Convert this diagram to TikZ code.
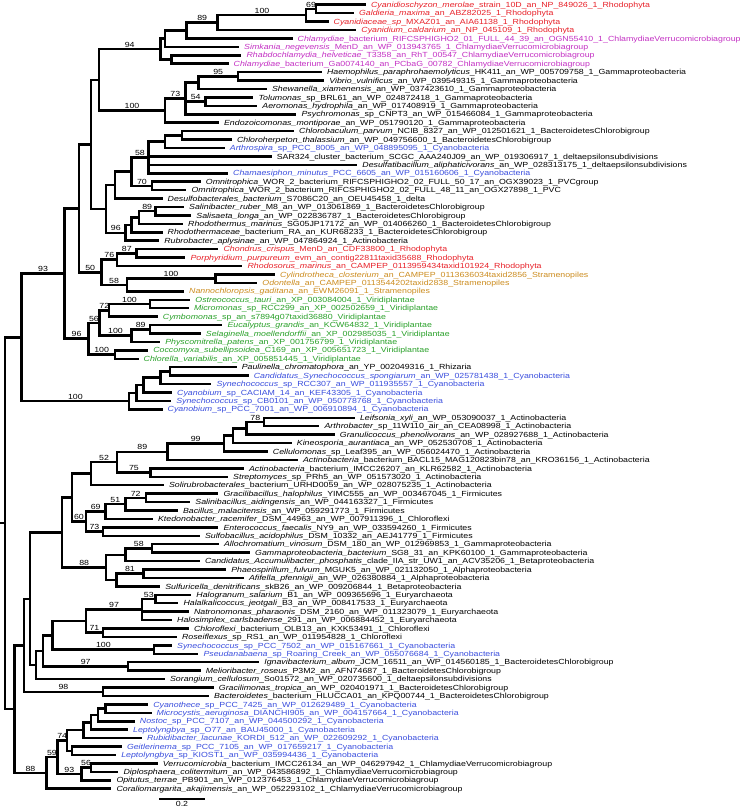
\documentclass[tikz,border=0pt]{standalone}
\usepackage{fontspec}
\newfontfamily\labf[FakeStretch=1.19]{Liberation Sans}
\usetikzlibrary{calc}
\definecolor{RD}{RGB}{232,32,40}
\definecolor{MG}{RGB}{196,48,196}
\definecolor{BL}{RGB}{58,78,222}
\definecolor{OR}{RGB}{204,140,30}
\definecolor{GR}{RGB}{40,160,40}
\tikzset{
  br/.style={line width=2.5pt},
  lab/.style={anchor=base west, inner sep=0pt, font=\labf\fontsize{7.4}{8}\selectfont},
  bsl/.style={anchor=south, inner sep=0pt, yshift=1.6pt, font=\labf\fontsize{7.4}{8}\selectfont}
}
\newcommand\lf[5]{%
  \coordinate (l#1) at ({#2-5},{4.7+(#1-1)*8.43});
  \node[lab,text=#3] (t#1) at (#2,{7.35+(#1-1)*8.43}) {\textit{#4}#5};}
\newcommand\nd[4]{\path let \p1=(#3),\p2=(#4) in coordinate (#1) at (#2pt,{(\y1+\y2)/2});}
\newcommand\kids[2]{\foreach \c in {#2}{\draw[br] (#1) |- (\c);}}
\newcommand\bs[4]{\path let \p1=(#2),\p2=(#3) in node[bsl] (#1) at ({(\x1+\x2)/2},\y2) {#4};}
\catcode`\_=12
\begin{document}
\begin{tikzpicture}[x=1pt,y=-1pt]
\fill[white] (0,0) rectangle (745,809);
\useasboundingbox (0,0) rectangle (745,809);
% leaves
\lf{1}{370.8}{RD}{Cyanidioschyzon_merolae}{_strain_10D_an_NP_849026_1_Rhodophyta}
\lf{2}{358.9}{RD}{Galdieria_maxima}{_an_ABZ82025_1_Rhodophyta}
\lf{3}{333.5}{RD}{Cyanidiaceae_sp}{_MXAZ01_an_AIA61138_1_Rhodophyta}
\lf{4}{361.2}{RD}{Cyanidium_caldarium}{_an_NP_045109_1_Rhodophyta}
\lf{5}{297.5}{MG}{Chlamydiae}{_bacterium_RIFCSPHIGHO2_01_FULL_44_39_an_OGN55410_1_ChlamydiaeVerrucomicrobiagroup}
\lf{6}{244.0}{MG}{Simkania_negevensis}{_MenD_an_WP_013943765_1_ChlamydiaeVerrucomicrobiagroup}
\lf{7}{246.4}{MG}{Rhabdochlamydia_helveticae}{_T3358_an_RhT_00547_ChlamydiaeVerrucomicrobiagroup}
\lf{8}{233.5}{MG}{Chlamydiae}{_bacterium_Ga0074140_an_PCbaG_00782_ChlamydiaeVerrucomicrobiagroup}
\lf{9}{326.8}{black}{Haemophilus_paraphrohaemolyticus}{_HK411_an_WP_005709758_1_Gammaproteobacteria}
\lf{10}{329.2}{black}{Vibrio_vulnificus}{_an_WP_039549315_1_Gammaproteobacteria}
\lf{11}{271.8}{black}{Shewanella_xiamenensis}{_an_WP_037423610_1_Gammaproteobacteria}
\lf{12}{258.4}{black}{Tolumonas}{_sp_BRL61_an_WP_024872418_1_Gammaproteobacteria}
\lf{13}{262.2}{black}{Aeromonas_hydrophila}{_an_WP_017408919_1_Gammaproteobacteria}
\lf{14}{301.4}{black}{Psychromonas}{_sp_CNPT3_an_WP_015466084_1_Gammaproteobacteria}
\lf{15}{223.9}{black}{Endozoicomonas_montiporae}{_an_WP_051790120_1_Gammaproteobacteria}
\lf{16}{299.0}{black}{Chlorobaculum_parvum}{_NCIB_8327_an_WP_012501621_1_BacteroidetesChlorobigroup}
\lf{17}{236.8}{black}{Chloroherpeton_thalassium}{_an_WP_049756600_1_BacteroidetesChlorobigroup}
\lf{18}{229.7}{BL}{Arthrospira}{_sp_PCC_8005_an_WP_048895095_1_Cyanobacteria}
\lf{19}{276.6}{black}{}{SAR324_cluster_bacterium_SCGC_AAA240J09_an_WP_019306917_1_deltaepsilonsubdivisions}
\lf{20}{362.2}{black}{Desulfatibacillum_aliphaticivorans}{_an_WP_028313175_1_deltaepsilonsubdivisions}
\lf{21}{233.0}{BL}{Chamaesiphon_minutus}{_PCC_6605_an_WP_015160606_1_Cyanobacteria}
\lf{22}{205.7}{black}{Omnitrophica}{_WOR_2_bacterium_RIFCSPHIGHO2_02_FULL_50_17_an_OGX39023_1_PVCgroup}
\lf{23}{191.4}{black}{Omnitrophica}{_WOR_2_bacterium_RIFCSPHIGHO2_02_FULL_48_11_an_OGX27898_1_PVC}
\lf{24}{167.5}{black}{Desulfobacterales_bacterium}{_S7086C20_an_OEU45458_1_delta}
\lf{25}{189.0}{black}{Salinibacter_ruber}{_M8_an_WP_013061869_1_BacteroidetesChlorobigroup}
\lf{26}{196.2}{black}{Salisaeta_longa}{_an_WP_022836787_1_BacteroidetesChlorobigroup}
\lf{27}{188.0}{black}{Rhodothermus_marinus}{_SG05JP17172_an_WP_014066260_1_BacteroidetesChlorobigroup}
\lf{28}{167.5}{black}{Rhodothermaceae}{_bacterium_RA_an_KUR68233_1_BacteroidetesChlorobigroup}
\lf{29}{164.1}{black}{Rubrobacter_aplysinae}{_an_WP_047864924_1_Actinobacteria}
\lf{30}{223.4}{RD}{Chondrus_crispus}{_MenD_an_CDF33800_1_Rhodophyta}
\lf{31}{190.4}{RD}{Porphyridium_purpureum}{_evm_an_contig22811taxid35688_Rhodophyta}
\lf{32}{247.4}{RD}{Rhodosorus_marinus}{_an_CAMPEP_0113959434taxid101924_Rhodophyta}
\lf{33}{279.9}{OR}{Cylindrotheca_closterium}{_an_CAMPEP_0113636034taxid2856_Stramenopiles}
\lf{34}{262.2}{OR}{Odontella}{_an_CAMPEP_0113544202taxid2838_Stramenopiles}
\lf{35}{189.0}{OR}{Nannochloropsis_gaditana}{_an_EWM26091_1_Stramenopiles}
\lf{36}{195.2}{GR}{Ostreococcus_tauri}{_an_XP_003084004_1_Viridiplantae}
\lf{37}{193.8}{GR}{Micromonas}{_sp_RCC299_an_XP_002502659_1_Viridiplantae}
\lf{38}{162.7}{GR}{Cymbomonas}{_sp_an_s7894g07taxid36880_Viridiplantae}
\lf{39}{227.3}{GR}{Eucalyptus_grandis}{_an_KCW64832_1_Viridiplantae}
\lf{40}{205.7}{GR}{Selaginella_moellendorffii}{_an_XP_002985035_1_Viridiplantae}
\lf{41}{165.1}{GR}{Physcomitrella_patens}{_an_XP_001756799_1_Viridiplantae}
\lf{42}{153.1}{GR}{Coccomyxa_subellipsoidea}{_C169_an_XP_005651723_1_Viridiplantae}
\lf{43}{143.5}{GR}{Chlorella_variabilis}{_an_XP_005851445_1_Viridiplantae}
\lf{44}{241.6}{black}{Paulinella_chromatophora}{_an_YP_002049316_1_Rhizaria}
\lf{45}{253.6}{BL}{Candidatus_Synechococcus_spongiarum}{_an_WP_025781438_1_Cyanobacteria}
\lf{46}{216.3}{BL}{Synechococcus}{_sp_RCC307_an_WP_011935557_1_Cyanobacteria}
\lf{47}{177.0}{BL}{Cyanobium}{_sp_CACIAM_14_an_KEF43305_1_Cyanobacteria}
\lf{48}{176.1}{BL}{Synechococcus}{_sp_CB0101_an_WP_050778768_1_Cyanobacteria}
\lf{49}{167.5}{BL}{Cyanobium}{_sp_PCC_7001_an_WP_006910894_1_Cyanobacteria}
\lf{50}{359.8}{black}{Leifsonia_xyli}{_an_WP_053090037_1_Actinobacteria}
\lf{51}{324.4}{black}{Arthrobacter}{_sp_11W110_air_an_CEA08998_1_Actinobacteria}
\lf{52}{339.7}{black}{Granulicoccus_phenolivorans}{_an_WP_028927688_1_Actinobacteria}
\lf{53}{296.7}{black}{Kineosporia_aurantiaca}{_an_WP_052530708_1_Actinobacteria}
\lf{54}{272.7}{black}{Cellulomonas}{_sp_Leaf395_an_WP_056024470_1_Actinobacteria}
\lf{55}{302.9}{black}{Actinobacteria}{_bacterium_BACL15_MAG120823bin78_an_KRO36156_1_Actinobacteria}
\lf{56}{248.8}{black}{Actinobacteria}{_bacterium_IMCC26207_an_KLR62582_1_Actinobacteria}
\lf{57}{233.0}{black}{Streptomyces}{_sp_PRh5_an_WP_051573020_1_Actinobacteria}
\lf{58}{168.9}{black}{Solirubrobacterales}{_bacterium_URHD0059_an_WP_028075235_1_Actinobacteria}
\lf{59}{223.4}{black}{Gracilibacillus_halophilus}{_YIMC555_an_WP_003467045_1_Firmicutes}
\lf{60}{195.2}{black}{Salinibacillus_aidingensis}{_an_WP_044163327_1_Firmicutes}
\lf{61}{182.8}{black}{Bacillus_malacitensis}{_an_WP_059291773_1_Firmicutes}
\lf{62}{157.9}{black}{Ktedonobacter_racemifer}{_DSM_44963_an_WP_007911396_1_Chloroflexi}
\lf{63}{223.4}{black}{Enterococcus_faecalis}{_NY9_an_WP_033594260_1_Firmicutes}
\lf{64}{204.8}{black}{Sulfobacillus_acidophilus}{_DSM_10332_an_AEJ41779_1_Firmicutes}
\lf{65}{223.9}{black}{Allochromatium_vinosum}{_DSM_180_an_WP_012969853_1_Gammaproteobacteria}
\lf{66}{255.0}{black}{Gammaproteobacteria_bacterium}{_SG8_31_an_KPK60100_1_Gammaproteobacteria}
\lf{67}{204.8}{black}{Candidatus_Accumulibacter_phosphatis}{_clade_IIA_str_UW1_an_ACV35206_1_Betaproteobacteria}
\lf{68}{231.1}{black}{Phaeospirillum_fulvum}{_MGUK5_an_WP_021132050_1_Alphaproteobacteria}
\lf{69}{248.8}{black}{Afifella_pfennigii}{_an_WP_026380884_1_Alphaproteobacteria}
\lf{70}{165.1}{black}{Sulfuricella_denitrificans}{_skB26_an_WP_009206844_1_Betaproteobacteria}
\lf{71}{196.2}{black}{Halogranum_salarium}{_B1_an_WP_009365696_1_Euryarchaeota}
\lf{72}{183.3}{black}{Halalkalicoccus_jeotgali}{_B3_an_WP_008417533_1_Euryarchaeota}
\lf{73}{193.8}{black}{Natronomonas_pharaonis}{_DSM_2160_an_WP_011323079_1_Euryarchaeota}
\lf{74}{177.0}{black}{Halosimplex_carlsbadense}{_291_an_WP_006884452_1_Euryarchaeota}
\lf{75}{193.8}{black}{Chloroflexi}{_bacterium_OLB13_an_KXK53491_1_Chloroflexi}
\lf{76}{181.8}{black}{Roseiflexus}{_sp_RS1_an_WP_011954828_1_Chloroflexi}
\lf{77}{177.0}{BL}{Synechococcus}{_sp_PCC_7502_an_WP_015167661_1_Cyanobacteria}
\lf{78}{203.3}{BL}{Pseudanabaena}{_sp_Roaring_Creek_an_WP_055076684_1_Cyanobacteria}
\lf{79}{264.1}{black}{Ignavibacterium_album}{_JCM_16511_an_WP_014560185_1_BacteroidetesChlorobigroup}
\lf{80}{205.7}{black}{Melioribacter_roseus}{_P3M2_an_AFN74687_1_BacteroidetesChlorobigroup}
\lf{81}{169.9}{black}{Sorangium_cellulosum}{_So01572_an_WP_020735600_1_deltaepsilonsubdivisions}
\lf{82}{218.7}{black}{Gracilimonas_tropica}{_an_WP_020401971_1_BacteroidetesChlorobigroup}
\lf{83}{213.9}{black}{Bacteroidetes}{_bacterium_HLUCCA01_an_KPQ00744_1_BacteroidetesChlorobigroup}
\lf{84}{153.1}{BL}{Cyanothece}{_sp_PCC_7425_an_WP_012629489_1_Cyanobacteria}
\lf{85}{156.5}{BL}{Microcystis_aeruginosa}{_DIANCHI905_an_WP_004157664_1_Cyanobacteria}
\lf{86}{139.7}{BL}{Nostoc}{_sp_PCC_7107_an_WP_044500292_1_Cyanobacteria}
\lf{87}{133.0}{BL}{Leptolyngbya}{_sp_O77_an_BAU45000_1_Cyanobacteria}
\lf{88}{146.9}{BL}{Rubidibacter_lacunae}{_KORDI_512_an_WP_022609292_1_Cyanobacteria}
\lf{89}{126.8}{BL}{Geitlerinema}{_sp_PCC_7105_an_WP_017659217_1_Cyanobacteria}
\lf{90}{121.1}{BL}{Leptolyngbya}{_sp_KIOST1_an_WP_035994436_1_Cyanobacteria}
\lf{91}{162.7}{black}{Verrucomicrobia}{_bacterium_IMCC26134_an_WP_046297942_1_ChlamydiaeVerrucomicrobiagroup}
\lf{92}{123.4}{black}{Diplosphaera_colitermitum}{_an_WP_043586892_1_ChlamydiaeVerrucomicrobiagroup}
\lf{93}{116.3}{black}{Opitutus_terrae}{_PB901_an_WP_012376453_1_ChlamydiaeVerrucomicrobiagroup}
\lf{94}{116.3}{black}{Coraliomargarita_akajimensis}{_an_WP_052293102_1_ChlamydiaeVerrucomicrobiagroup}
% internal nodes
\nd{n12}{315.8}{l1}{l2}
\nd{n123}{306.2}{n12}{l3}
\nd{n1234}{217.7}{n123}{l4}
\nd{nA5}{186.6}{n1234}{l5}
\nd{nY}{165.1}{nA5}{l6}
\nd{nZ}{171.3}{l7}{l8}
\nd{nX}{160.3}{nY}{nZ}
\nd{g910}{237.8}{l9}{l10}
\nd{g911}{198.6}{g910}{l11}
\nd{g54}{205.7}{l12}{l13}
\nd{g73}{185.6}{g911}{l14}
\nd{g100}{165.1}{g73}{l15}
\nd{n69}{99.0}{nX}{g100}
\nd{b1617}{181.8}{l16}{l17}
\nd{b1618}{165.1}{b1617}{l18}
\nd{n58}{148.3}{b1618}{l21}
\nd{n70}{152.2}{l22}{l23}
\nd{n92}{131.6}{n58}{n70}
\nd{n80}{114.8}{n92}{l24}
\nd{r2526}{155.5}{l25}{l26}
\nd{r2527}{138.8}{r2526}{l27}
\nd{r2528}{131.6}{r2527}{l28}
\nd{n96}{125.4}{r2528}{l29}
\nd{n74}{106.2}{n80}{n96}
\nd{n63}{90.9}{n69}{n74}
\nd{r3031}{136.4}{l30}{l31}
\nd{n76}{117.2}{r3031}{l32}
\nd{s3334}{215.3}{l33}{l34}
\nd{n58b}{126.8}{s3334}{l35}
\nd{n50}{101.4}{n76}{n58b}
\nd{n55}{78.9}{n63}{n50}
\nd{v3637}{149.8}{l36}{l37}
\nd{n72}{109.1}{v3637}{l38}
\nd{v3940}{149.8}{l39}{l40}
\nd{n100d}{131.6}{v3940}{l41}
\nd{n56}{99.5}{n72}{n100d}
\nd{v4243}{114.8}{l42}{l43}
\nd{n62}{88.5}{n56}{v4243}
\nd{n45}{64.6}{n55}{n62}
\nd{c4445}{169.9}{l44}{l45}
\nd{c4446}{160.3}{c4445}{l46}
\nd{c4447}{143.5}{c4446}{l47}
\nd{c4448}{136.4}{c4447}{l48}
\nd{c4449}{129.2}{c4448}{l49}
\nd{n15}{21.5}{n45}{c4449}
\nd{a5051}{264.1}{l50}{l51}
\nd{a5052}{246.4}{a5051}{l52}
\nd{a5053}{233.0}{a5052}{l53}
\nd{a5054}{223.9}{a5053}{l54}
\nd{a5055}{167.5}{a5054}{l55}
\nd{a5657}{150.7}{l56}{l57}
\nd{n52}{117.2}{a5055}{a5657}
\nd{n63b}{90.9}{n52}{l58}
\nd{f5960}{145.9}{l59}{l60}
\nd{f51}{125.4}{f5960}{l61}
\nd{f69}{105.3}{f51}{l62}
\nd{f6364}{102.9}{l63}{l64}
\nd{f60}{86.1}{f69}{f6364}
\nd{n50b}{71.8}{n63b}{f60}
\nd{p6566}{152.2}{l65}{l66}
\nd{p6567}{125.4}{p6566}{l67}
\nd{p6869}{143.5}{l68}{l69}
\nd{p6870}{116.3}{p6869}{l70}
\nd{p88}{106.2}{p6567}{p6870}
\nd{n62b}{62.2}{n50b}{p88}
\nd{h7172}{155.5}{l71}{l72}
\nd{h97}{142.0}{h7172}{l74}
\nd{x7576}{102.9}{l75}{l76}
\nd{n60b}{86.1}{h97}{x7576}
\nd{y7778}{154.1}{l77}{l78}
\nd{n37}{52.6}{n60b}{y7778}
\nd{i7980}{128.2}{l79}{l80}
\nd{n30}{43.1}{n37}{i7980}
\nd{n25}{35.9}{n30}{l81}
\nd{nM}{30.0}{n62b}{n25}
\nd{g98}{102.9}{l82}{l83}
\nd{n17}{23.9}{nM}{g98}
\nd{k8485}{105.3}{l84}{l85}
\nd{k8486}{98.1}{k8485}{l86}
\nd{k8487}{90.9}{k8486}{l87}
\nd{k8488}{83.7}{k8487}{l88}
\nd{k8990}{71.8}{l89}{l90}
\nd{n74b}{67.0}{k8488}{k8990}
\nd{v9192}{90.9}{l91}{l92}
\nd{n93b}{81.3}{v9192}{l93}
\nd{n40}{57.4}{n74b}{n93b}
\nd{n32}{46.4}{n40}{l94}
\nd{n10}{14.4}{n17}{n32}
\nd{root}{4.8}{n15}{n10}
\path let \p1=(root) in coordinate (r0) at (0pt,\y1);
% edges
\draw[br] (r0) -- (root);
\kids{root}{n15,n10}
\kids{n12}{l1,l2}\kids{n123}{n12,l3}\kids{n1234}{n123,l4}\kids{nA5}{n1234,l5}
\kids{nY}{nA5,l6}\kids{nZ}{l7,l8}\kids{nX}{nY,nZ}
\kids{g910}{l9,l10}\kids{g911}{g910,l11}\kids{g54}{l12,l13}\kids{g73}{g911,g54,l14}
\kids{g100}{g73,l15}\kids{n69}{nX,g100}
\kids{b1617}{l16,l17}\kids{b1618}{b1617,l18}\kids{n58}{b1618,l19,l20,l21}\kids{n70}{l22,l23}
\kids{n92}{n58,n70}\kids{n80}{n92,l24}
\kids{r2526}{l25,l26}\kids{r2527}{r2526,l27}\kids{r2528}{r2527,l28}\kids{n96}{r2528,l29}
\kids{n74}{n80,n96}\kids{n63}{n69,n74}
\kids{r3031}{l30,l31}\kids{n76}{r3031,l32}\kids{s3334}{l33,l34}\kids{n58b}{s3334,l35}
\kids{n50}{n76,n58b}\kids{n55}{n63,n50}
\kids{v3637}{l36,l37}\kids{n72}{v3637,l38}\kids{v3940}{l39,l40}\kids{n100d}{v3940,l41}
\kids{n56}{n72,n100d}\kids{v4243}{l42,l43}\kids{n62}{n56,v4243}\kids{n45}{n55,n62}
\kids{c4445}{l44,l45}\kids{c4446}{c4445,l46}\kids{c4447}{c4446,l47}\kids{c4448}{c4447,l48}
\kids{c4449}{c4448,l49}\kids{n15}{n45,c4449}
\kids{a5051}{l50,l51}\kids{a5052}{a5051,l52}\kids{a5053}{a5052,l53}\kids{a5054}{a5053,l54}
\kids{a5055}{a5054,l55}\kids{a5657}{l56,l57}\kids{n52}{a5055,a5657}\kids{n63b}{n52,l58}
\kids{f5960}{l59,l60}\kids{f51}{f5960,l61}\kids{f69}{f51,l62}\kids{f6364}{l63,l64}
\kids{f60}{f69,f6364}\kids{n50b}{n63b,f60}
\kids{p6566}{l65,l66}\kids{p6567}{p6566,l67}\kids{p6869}{l68,l69}\kids{p6870}{p6869,l70}
\kids{p88}{p6567,p6870}\kids{n62b}{n50b,p88}
\kids{h7172}{l71,l72}\kids{h97}{h7172,l73,l74}\kids{x7576}{l75,l76}\kids{n60b}{h97,x7576}
\kids{y7778}{l77,l78}\kids{n37}{n60b,y7778}\kids{i7980}{l79,l80}\kids{n30}{n37,i7980}
\kids{n25}{n30,l81}\kids{nM}{n62b,n25}\kids{g98}{l82,l83}\kids{n17}{nM,g98}
\kids{k8485}{l84,l85}\kids{k8486}{k8485,l86}\kids{k8487}{k8486,l87}\kids{k8488}{k8487,l88}
\kids{k8990}{l89,l90}\kids{n74b}{k8488,k8990}
\kids{v9192}{l91,l92}\kids{n93b}{v9192,l93}\kids{n40}{n74b,n93b}\kids{n32}{n40,l94}
\kids{n10}{n17,n32}
% bootstrap values
\bs{b1}{n123}{n12}{69}\bs{b2}{n1234}{n123}{100}\bs{b3}{nA5}{n1234}{89}\bs{b4}{n69}{nX}{94}
\bs{b5}{g911}{g910}{95}\bs{b6}{g73}{g54}{54}\bs{b7}{g100}{g73}{73}\bs{b8}{n69}{g100}{100}
\bs{b9}{n92}{n58}{58}\bs{b10}{n92}{n70}{70}\bs{b11}{r2527}{r2526}{89}\bs{b12}{n74}{n96}{96}
\bs{b13}{n76}{r3031}{87}\bs{b14}{n50}{n76}{76}\bs{b15}{n55}{n50}{50}\bs{b16}{n58b}{s3334}{100}
\bs{b17}{n50}{n58b}{58}\bs{b18}{n72}{v3637}{100}\bs{b19}{n56}{n72}{72}\bs{b20}{n100d}{v3940}{89}
\bs{b21}{n56}{n100d}{100}\bs{b22}{n62}{n56}{56}\bs{b23}{n62}{v4243}{100}\bs{b24}{n45}{n62}{96}
\bs{b25}{n15}{n45}{93}\bs{b26}{n15}{c4449}{100}
\bs{b27}{a5052}{a5051}{78}\bs{b28}{a5055}{a5054}{99}\bs{b29}{n52}{a5055}{89}\bs{b30}{n52}{a5657}{75}
\bs{b31}{n63b}{n52}{52}\bs{b32}{f51}{f5960}{72}\bs{b33}{f69}{f51}{51}\bs{b34}{f60}{f69}{69}
\bs{b35}{f60}{f6364}{73}\bs{b36}{n50b}{f60}{60}\bs{b37}{p6567}{p6566}{58}\bs{b38}{p6870}{p6869}{81}
\bs{b39}{n62b}{p88}{88}\bs{b40}{h97}{h7172}{53}\bs{b41}{n60b}{h97}{97}\bs{b42}{n60b}{x7576}{71}
\bs{b43}{n37}{y7778}{100}\bs{b44}{n30}{i7980}{97}\bs{b45}{n17}{g98}{98}\bs{b46}{n40}{n74b}{74}
\bs{b47}{n93b}{v9192}{56}\bs{b48}{n40}{n93b}{93}\bs{b49}{n32}{n40}{59}\bs{b50}{n10}{n32}{88}
% scale bar
\coordinate (sb1) at (159.3,799);
\coordinate (sb2) at (204.8,799);
\draw[br] (sb1) -- (sb2);
\node[anchor=north, inner sep=0pt, font=\labf\fontsize{7.4}{8}\selectfont] (sbt) at (182,801.5) {0.2};
\end{tikzpicture}
\end{document}
